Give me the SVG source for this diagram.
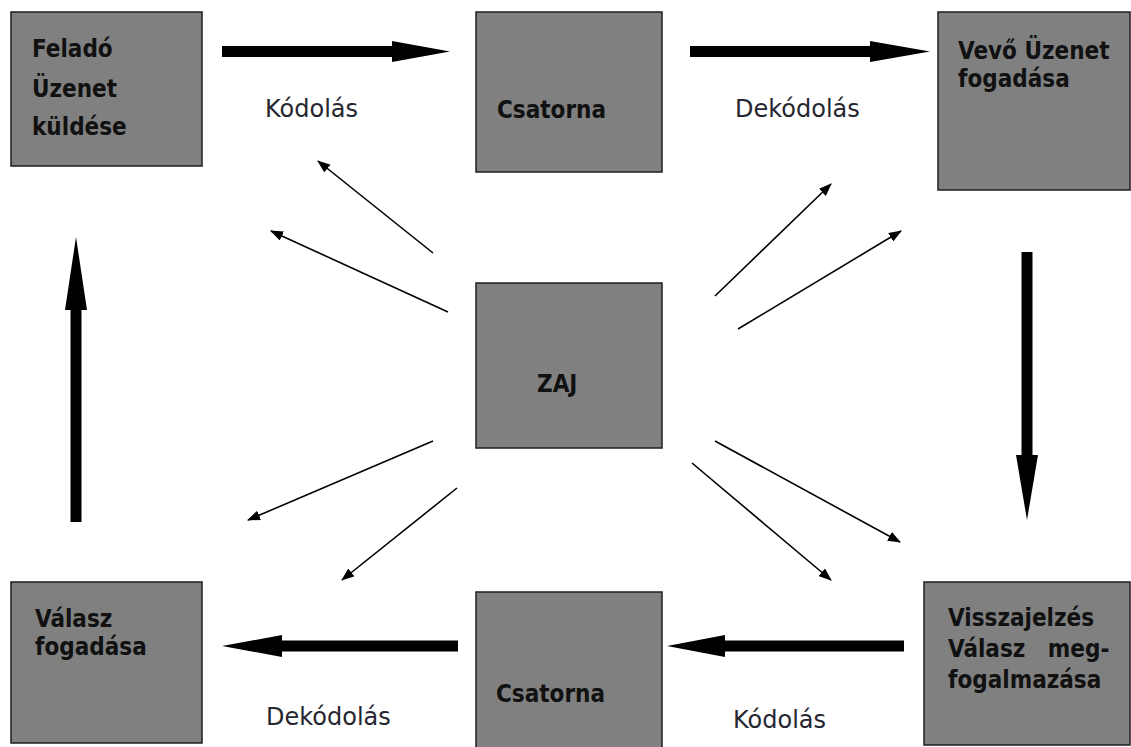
<svg xmlns="http://www.w3.org/2000/svg" width="1131" height="747" viewBox="0 0 1131 747">
  <style>
    .box { fill: #808080; stroke: #1e1e1e; stroke-width: 1.5; }
    .bt { font-family: "DejaVu Sans Condensed", "DejaVu Sans", Verdana, sans-serif; font-stretch: condensed; font-weight: bold; font-size: 24px; fill: #111; }
    .lbl { font-family: "DejaVu Sans", Verdana, sans-serif; font-size: 24px; fill: #262630; }
    .thick { fill: #000; }
    .thin { stroke: #000; stroke-width: 1.6; fill: none; marker-end: url(#ah); }
  </style>
  <defs>
    <marker id="ah" viewBox="0 0 13 10" refX="12" refY="5" markerWidth="13" markerHeight="10" markerUnits="userSpaceOnUse" orient="auto">
      <path d="M0,0 L13,5 L0,10 Z" fill="#000"/>
    </marker>
  </defs>
  <rect width="1131" height="747" fill="#fff"/>

  <g id="node-felado">
    <rect class="box" x="11" y="12" width="191" height="154"/>
    <text class="bt" x="32" y="57">Feladó</text>
    <text class="bt" x="32" y="97">Üzenet</text>
    <text class="bt" x="32" y="135">küldése</text>
  </g>
  <g id="node-csatorna-top">
    <rect class="box" x="476" y="12" width="186" height="160"/>
    <text class="bt" x="497" y="118">Csatorna</text>
  </g>
  <g id="node-vevo">
    <rect class="box" x="938" y="12" width="192" height="178"/>
    <text class="bt" x="958" y="59">Vevő Üzenet</text>
    <text class="bt" x="958" y="87">fogadása</text>
  </g>
  <g id="node-zaj">
    <rect class="box" x="476" y="283" width="186" height="165"/>
    <text class="bt" x="537" y="392">ZAJ</text>
  </g>
  <g id="node-valasz">
    <rect class="box" x="11" y="582" width="191" height="161"/>
    <text class="bt" x="35" y="627">Válasz</text>
    <text class="bt" x="35" y="655">fogadása</text>
  </g>
  <g id="node-csatorna-bottom">
    <rect class="box" x="476" y="592" width="186" height="170"/>
    <text class="bt" x="496" y="702">Csatorna</text>
  </g>
  <g id="node-visszajelzes">
    <rect class="box" x="924" y="582" width="206" height="163"/>
    <text class="bt" x="948" y="626">Visszajelzés</text>
    <text class="bt" x="948" y="657" word-spacing="15">Válasz meg-</text>
    <text class="bt" x="948" y="688">fogalmazása</text>
  </g>

  <g id="labels">
    <text class="lbl" x="265" y="117">Kódolás</text>
    <text class="lbl" x="735" y="117">Dekódolás</text>
    <text class="lbl" x="266" y="725">Dekódolás</text>
    <text class="lbl" x="733" y="728">Kódolás</text>
  </g>

  <g id="connectors">
    <polygon class="thick" points="222,46 392,46 392,41 450,51.5 392,62 392,57 222,57"/>
    <polygon class="thick" points="690,46 870,46 870,41 930,51.5 870,62 870,57 690,57"/>
    <polygon class="thick" points="1021.5,252 1032.5,252 1032.5,455 1038,455 1027,520 1016,455 1021.5,455"/>
    <polygon class="thick" points="904,640.5 725,640.5 725,635 667,646 725,657 725,651.5 904,651.5"/>
    <polygon class="thick" points="458,640.5 282,640.5 282,635 222,646 282,657 282,651.5 458,651.5"/>
    <polygon class="thick" points="70.5,522 81.5,522 81.5,310 87,310 76,237 65,310 70.5,310"/>
    <line class="thin" x1="433" y1="253" x2="318" y2="161"/>
    <line class="thin" x1="448" y1="312" x2="271" y2="231"/>
    <line class="thin" x1="715" y1="296" x2="831" y2="184"/>
    <line class="thin" x1="738" y1="329" x2="901" y2="231"/>
    <line class="thin" x1="433" y1="441" x2="248" y2="520"/>
    <line class="thin" x1="457" y1="488" x2="342" y2="580"/>
    <line class="thin" x1="715" y1="441" x2="900" y2="542"/>
    <line class="thin" x1="692" y1="463" x2="831" y2="580"/>
  </g>
</svg>
